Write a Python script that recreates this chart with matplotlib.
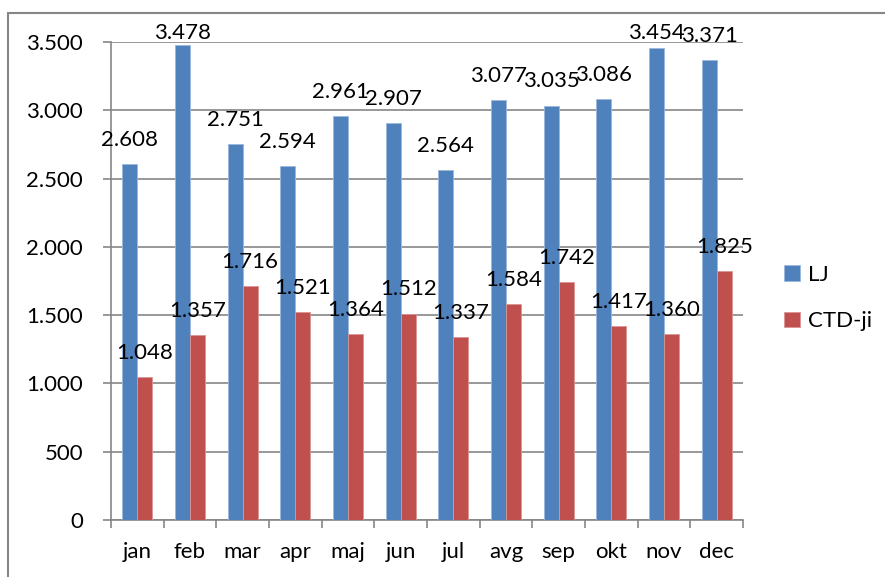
import numpy as np
import matplotlib
matplotlib.use("Agg")
import matplotlib.pyplot as plt
from matplotlib.patches import Rectangle

plt.rcParams['font.family'] = ['Lato', 'DejaVu Sans']

# data
months = ["jan", "feb", "mar", "apr", "maj", "jun", "jul", "avg", "sep", "okt", "nov", "dec"]
lj = [2608, 3478, 2751, 2594, 2961, 2907, 2564, 3077, 3035, 3086, 3454, 3371]
ctd = [1048, 1357, 1716, 1521, 1364, 1512, 1337, 1584, 1742, 1417, 1360, 1825]
series_names = ["LJ", "CTD-ji"]
yticks = [0, 500, 1000, 1500, 2000, 2500, 3000, 3500]

blue = "#4F81BD"
red = "#C0504D"
grid_col = "#868686"
fs = 16


def fmt(v):
    # thousands separator with a dot, as in the reference
    return f"{v:,}".replace(",", ".")


fig = plt.figure(figsize=(8.85, 5.77), dpi=100)
ax = fig.add_axes([111 / 885, 1 - 520 / 577, 632 / 885, 478 / 577])

x = np.arange(len(months))
w = 0.285
b1 = ax.bar(x - w / 2, lj, w, color=blue, edgecolor="#9BB7DD", linewidth=0.6,
            label=series_names[0], zorder=3)
b2 = ax.bar(x + w / 2, ctd, w, color=red, edgecolor="#D99694", linewidth=0.6,
            label=series_names[1], zorder=3)

ax.set_xlim(-0.5, len(months) - 0.5)
ax.set_ylim(0, 3500)

# labels sit a fixed gap above each bar, but are kept inside the chart at the top
gap = 132
top_limit = 3521
for bars, vals in ((b1, lj), (b2, ctd)):
    for r, v in zip(bars, vals):
        ax.text(r.get_x() + r.get_width() / 2, min(v + gap, top_limit), fmt(v),
                ha="center", va="baseline", fontsize=fs, color="black",
                zorder=4, clip_on=False)

ax.set_yticks(yticks)
ax.set_yticklabels([fmt(v) for v in yticks], fontsize=fs)
ax.yaxis.grid(True, color=grid_col, linewidth=1.2, zorder=0)

ax.set_xticks(x)
ax.set_xticklabels(months, fontsize=fs)
ax.set_xticks(np.arange(-0.5, len(months)), minor=True)
ax.tick_params(axis="x", which="major", length=0, pad=16)
ax.tick_params(axis="x", which="minor", length=6, width=1.2, color=grid_col, direction="out")
ax.tick_params(axis="y", length=6, width=1.2, color=grid_col, direction="out", pad=14)

for s in ("top", "right"):
    ax.spines[s].set_visible(False)
for s in ("left", "bottom"):
    ax.spines[s].set_color(grid_col)
    ax.spines[s].set_linewidth(1.2)

leg = fig.legend(handles=[b1, b2], labels=series_names, loc="center left",
                 bbox_to_anchor=(784 / 885, 1 - 298 / 577), frameon=False,
                 fontsize=fs, handlelength=0.7, handleheight=0.7,
                 labelspacing=1.2, handletextpad=0.4,
                 borderpad=0, borderaxespad=0)

# outer chart frame (right/bottom edges fall outside the image)
fig.patches.append(Rectangle((8 / 885, -0.1), 1.2, 1.1 - 13 / 577,
                             transform=fig.transFigure, fill=False,
                             edgecolor=grid_col, linewidth=1.5))

fig.savefig("out.png", dpi=100)
